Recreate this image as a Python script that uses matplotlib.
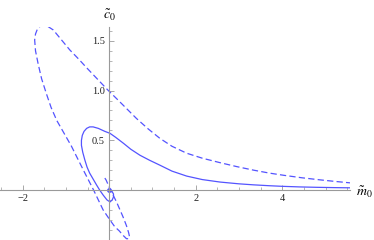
import matplotlib
matplotlib.use("Agg")
import matplotlib.pyplot as plt
from matplotlib.ticker import MultipleLocator, FixedLocator

# solid curve (parametric path)
solid_m = [0.00, 0.06, 0.10, 0.10, 0.07, 0.02, -0.05, -0.14, -0.22, -0.29, -0.37, -0.45,
           -0.51, -0.56, -0.61, -0.64, -0.64, -0.62, -0.58, -0.52, -0.45, -0.37, -0.25,
           -0.10, 0.02, 0.15, 0.33, 0.50, 0.71, 0.93, 1.17, 1.45, 1.79, 2.15, 2.56, 3.00,
           3.33, 3.70, 4.00, 4.40, 4.80, 5.20, 5.56]
solid_c = [0.00, -0.01, -0.04, -0.07, -0.10, -0.12, -0.10, -0.05, 0.00, 0.05, 0.11, 0.17,
           0.23, 0.30, 0.38, 0.45, 0.50, 0.55, 0.59, 0.62, 0.635, 0.635, 0.62,
           0.59, 0.57, 0.53, 0.47, 0.41, 0.35, 0.30, 0.25, 0.19, 0.14, 0.105, 0.080, 0.062,
           0.052, 0.043, 0.037, 0.031, 0.027, 0.024, 0.022]

# dashed curve (parametric path)
dashed_m = [-0.10, -0.07, -0.03, 0.02, 0.09, 0.17, 0.25, 0.32, 0.40, 0.45, 0.47, 0.45,
            0.40, 0.33, 0.23, 0.13, 0.00, -0.14, -0.25, -0.36, -0.46, -0.56, -0.71, -0.87,
            -1.04, -1.21, -1.34, -1.45, -1.56, -1.64, -1.70, -1.72, -1.70, -1.66, -1.60,
            -1.52, -1.43, -1.29, -1.10, -0.91, -0.71, -0.52, -0.28, -0.04, 0.17, 0.40,
            0.63, 0.90, 1.17, 1.45, 1.79, 2.15, 2.56, 2.95, 3.33, 3.70, 4.03, 4.45, 4.87,
            5.20, 5.56]
dashed_c = [0.12, 0.10, 0.06, 0.01, -0.05, -0.12, -0.20, -0.27, -0.36, -0.43, -0.47, -0.49,
            -0.49, -0.46, -0.41, -0.37, -0.29, -0.20, -0.10, 0.00, 0.085, 0.17, 0.30, 0.44,
            0.57, 0.70, 0.83, 0.97, 1.12, 1.27, 1.40, 1.51, 1.57, 1.615, 1.645,
            1.655, 1.65, 1.61, 1.51, 1.41, 1.32, 1.23, 1.12, 1.01, 0.92, 0.82,
            0.72, 0.615, 0.52, 0.44, 0.37, 0.32, 0.275, 0.235, 0.200, 0.170, 0.148, 0.123,
            0.102, 0.087, 0.072]

x_major = [-2, 2, 4]
y_major = [0.5, 1.0, 1.5]
x_labels = ["\u22122", "2", "4"]
y_labels = ["0.5", "1.0", "1.5"]

W, H = 374, 240
fig = plt.figure(figsize=(W / 100, H / 100), dpi=100)
ax = fig.add_axes([0, 0, 350 / W, 213 / H])

color = (0.33, 0.33, 1.0)
ax.plot(solid_m, solid_c, color=color, lw=0.9, solid_capstyle="round")
ax.plot(dashed_m, dashed_c, color=color, lw=0.9, dashes=(5.0, 2.6))
ax.plot([0], [0], 'o', color=color, ms=2.5)

ax.set_xlim(-2.52, 5.56)
ax.set_ylim(-0.503, 1.64)

for s in ["top", "right"]:
    ax.spines[s].set_visible(False)
ax.spines["left"].set_position(("data", 0))
ax.spines["bottom"].set_position(("data", 0))
axcol = "#9a9a9a"
for s in ["left", "bottom"]:
    ax.spines[s].set_color(axcol)
    ax.spines[s].set_linewidth(0.8)

ax.xaxis.set_major_locator(FixedLocator(x_major))
ax.yaxis.set_major_locator(FixedLocator(y_major))
ax.set_xticklabels(x_labels)
ax.set_yticklabels(y_labels)
ax.xaxis.set_minor_locator(MultipleLocator(0.5))
ax.yaxis.set_minor_locator(MultipleLocator(0.1))

ax.tick_params(axis="both", which="major", direction="in", length=3.5, width=0.6,
               color=axcol, labelsize=7.5, labelcolor="#222222", pad=3)
ax.tick_params(axis="both", which="minor", direction="in", length=2, width=0.5, color=axcol)
for lab in ax.get_xticklabels() + ax.get_yticklabels():
    lab.set_fontfamily("Liberation Serif")

plt.rcParams["mathtext.fontset"] = "stix"
fig.text(364 / W, 1 - 192 / H, r"$\tilde{m}_{\mathrm{0}}$", fontsize=10, ha="center", va="center")
fig.text(109 / W, 1 - 15 / H, r"$\tilde{c}_{\mathrm{0}}$", fontsize=10, ha="center", va="center")

fig.savefig("out.png", dpi=100)
